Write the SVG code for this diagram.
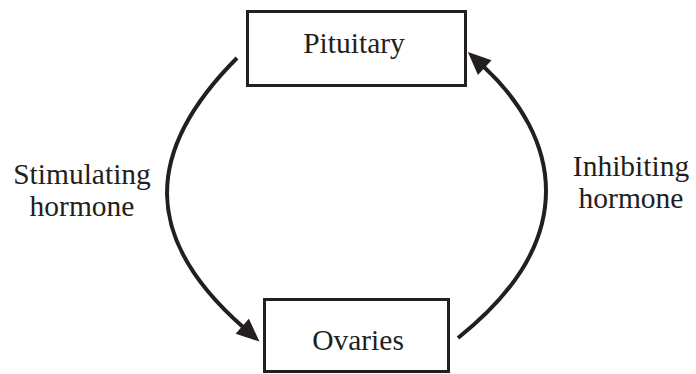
<svg xmlns="http://www.w3.org/2000/svg" width="696" height="374" viewBox="0 0 696 374">
<style>
.box{fill:#ffffff;stroke:#231f20;stroke-width:3}
.lbl{font-family:"Liberation Serif","Times New Roman",serif;font-size:29.5px;fill:#231f20}
.mid{text-anchor:middle}
.conn{fill:none;stroke:#231f20;stroke-width:4}
</style>
<defs>
<marker id="arr" markerUnits="userSpaceOnUse" markerWidth="28" markerHeight="24" viewBox="-1 -11 28 22" refX="1" refY="0" orient="auto">
<path d="M0,-10 L23,0 L0,10 z" fill="#231f20"/>
</marker>
</defs>
<rect width="696" height="374" fill="#ffffff"/>
<g id="connectors">
<path class="conn" d="M237,58 C142.5,152.5 143,239 243,327" marker-end="url(#arr)"/>
<path class="conn" d="M458,338 C585,237 557,135 484,67" marker-end="url(#arr)"/>
</g>
<g id="pituitary">
<rect class="box" x="247.5" y="11.5" width="218" height="74"/>
<text class="lbl mid" x="354" y="53">Pituitary</text>
</g>
<g id="ovaries">
<rect class="box" x="264.5" y="299.5" width="184" height="72"/>
<text class="lbl mid" x="358" y="350">Ovaries</text>
</g>
<g id="label-stimulating">
<text class="lbl mid" x="82" y="184">Stimulating</text>
<text class="lbl mid" x="82" y="216">hormone</text>
</g>
<g id="label-inhibiting">
<text class="lbl mid" x="631" y="176">Inhibiting</text>
<text class="lbl mid" x="631" y="208">hormone</text>
</g>
</svg>
